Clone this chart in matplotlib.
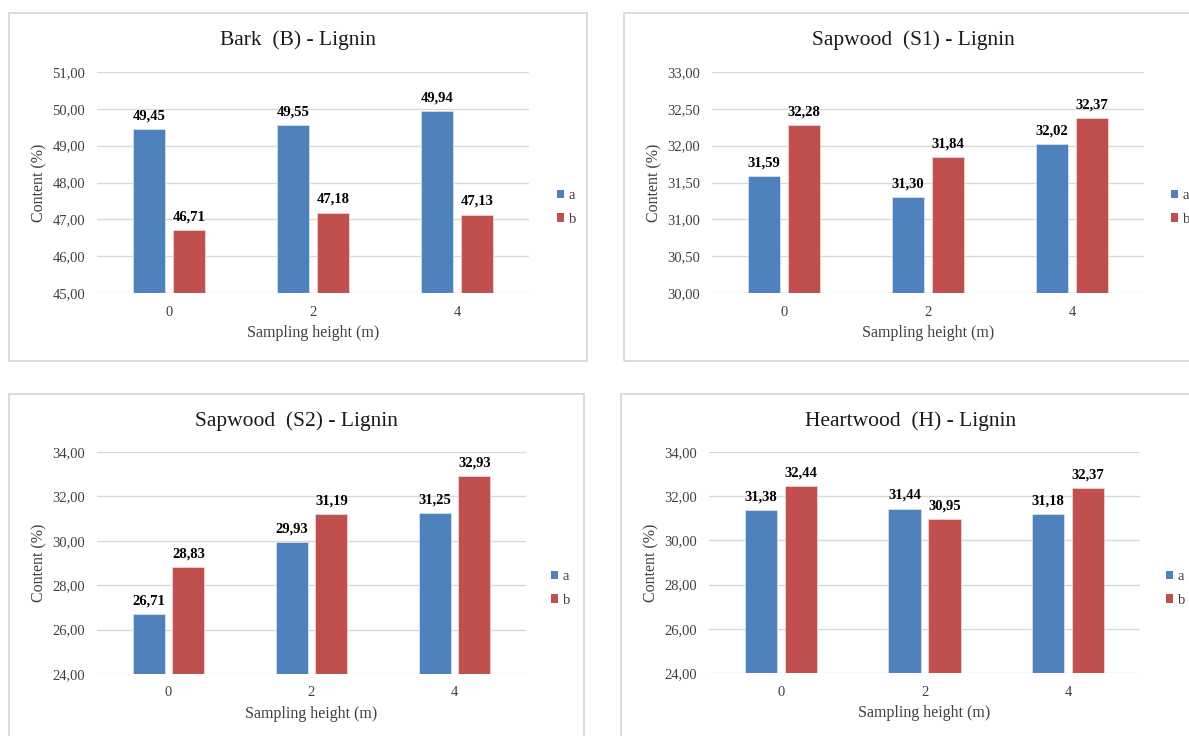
import matplotlib
matplotlib.use("Agg")
import matplotlib.pyplot as plt
import numpy as np
from matplotlib.patches import Rectangle, Patch
from matplotlib.ticker import FuncFormatter

plt.rcParams['font.family'] = ['Liberation Serif', 'DejaVu Serif']

### Data ###
heights = ['0', '2', '4']
series_names = ['a', 'b']

bark_a = [49.45, 49.55, 49.94]
bark_b = [46.71, 47.18, 47.13]
sap1_a = [31.59, 31.30, 32.02]
sap1_b = [32.28, 31.84, 32.37]
sap2_a = [26.71, 29.93, 31.25]
sap2_b = [28.83, 31.19, 32.93]
heart_a = [31.38, 31.44, 31.18]
heart_b = [32.44, 30.95, 32.37]

### Layout (pixels) ###
W, H = 1189, 736
BLUE = '#4F81BD'
RED = '#C0504D'
GRID = '#D9D9D9'
TXT = '#404040'

panels = [
    # title, a, b, ylim, ystep, box(l,t,r,b), axes(l,t,r,b), legend(x,y)
    ('Bark  (B) - Lignin', bark_a, bark_b, (45, 51), 1,
     (9, 13, 587, 361), (97, 72, 529, 293), (557, 207.5)),
    ('Sapwood  (S1) - Lignin', sap1_a, sap1_b, (30, 33), 0.5,
     (624, 13, 1203, 361), (712, 72, 1144, 293), (1171, 207.5)),
    ('Sapwood  (S2) - Lignin', sap2_a, sap2_b, (24, 34), 2,
     (9, 394, 584, 770), (97, 452, 526, 674), (551, 588.5)),
    ('Heartwood  (H) - Lignin', heart_a, heart_b, (24, 34), 2,
     (621, 394, 1200, 770), (709, 452, 1140, 673), (1166, 588.5)),
]


def fx(px):
    return px / W


def fy(py):
    return 1 - py / H


def comma(v, pos=None):
    return f'{v:.2f}'.replace('.', ',')


fig = plt.figure(figsize=(W / 100, H / 100), dpi=100)
fig.patch.set_facecolor('white')

for title, va, vb, ylim, ystep, box, area, leg in panels:
    bl, bt, br, bb = box
    fig.patches.append(Rectangle((fx(bl), fy(bb)), fx(br - bl), (bb - bt) / H,
                                 transform=fig.transFigure, facecolor='none',
                                 edgecolor=GRID, linewidth=1.3, zorder=0))

    al, at, ar, ab = area
    ax = fig.add_axes([fx(al), fy(ab), fx(ar - al), (ab - at) / H])
    x = np.arange(len(heights))
    w = 0.225
    off = 0.139
    bars_a = ax.bar(x - off, va, w, bottom=0, color=BLUE, edgecolor='#DCE6F2',
                    linewidth=0.5, zorder=3)
    bars_b = ax.bar(x + off, vb, w, color=RED, edgecolor='#F2DCDB',
                    linewidth=0.5, zorder=3)

    for bars, vals in ((bars_a, va), (bars_b, vb)):
        for rect, v in zip(bars, vals):
            ax.annotate(comma(v), (rect.get_x() + rect.get_width() / 2, v),
                        xytext=(0, 7), textcoords='offset points',
                        ha='center', va='baseline', fontsize=10.5,
                        fontweight='bold', color='black', zorder=4)

    ax.set_xlim(-0.5, len(heights) - 0.5)
    ax.set_ylim(*ylim)
    ax.set_yticks(np.arange(ylim[0], ylim[1] + ystep / 2, ystep))
    ax.yaxis.set_major_formatter(FuncFormatter(comma))
    ax.set_xticks(x)
    ax.set_xticklabels(heights)
    ax.tick_params(axis='both', length=0, labelsize=10.5, colors=TXT)
    ax.tick_params(axis='y', pad=8.5)
    ax.tick_params(axis='x', pad=9)
    ax.grid(axis='y', color=GRID, linewidth=1.0, zorder=0)
    ax.set_axisbelow(True)
    for s in ax.spines.values():
        s.set_visible(False)
    ax.set_facecolor('none')

    # titles and axis labels
    fig.text(fx((bl + br) / 2), fy(bt + 27), title, ha='center', va='center',
             fontsize=15.5, color='#1a1a1a')
    fig.text(fx(bl + 30), fy((at + ab) / 2), 'Content (%)', rotation=90,
             ha='center', va='center', fontsize=11.5, color=TXT)
    fig.text(fx((al + ar) / 2), fy(ab + 40), 'Sampling height (m)',
             ha='center', va='center', fontsize=11.5, color=TXT)

    handles = [Patch(facecolor=BLUE, edgecolor='none'),
               Patch(facecolor=RED, edgecolor='none')]
    ax.legend(handles, series_names, loc='center left',
              bbox_to_anchor=(fx(leg[0]), fy(leg[1])),
              bbox_transform=fig.transFigure, frameon=False,
              fontsize=10.5, handlelength=0.5, handleheight=0.5,
              handletextpad=0.3, labelspacing=0.7, borderpad=0,
              borderaxespad=0, labelcolor=TXT)

fig.savefig('out.png', dpi=100, facecolor='white')
